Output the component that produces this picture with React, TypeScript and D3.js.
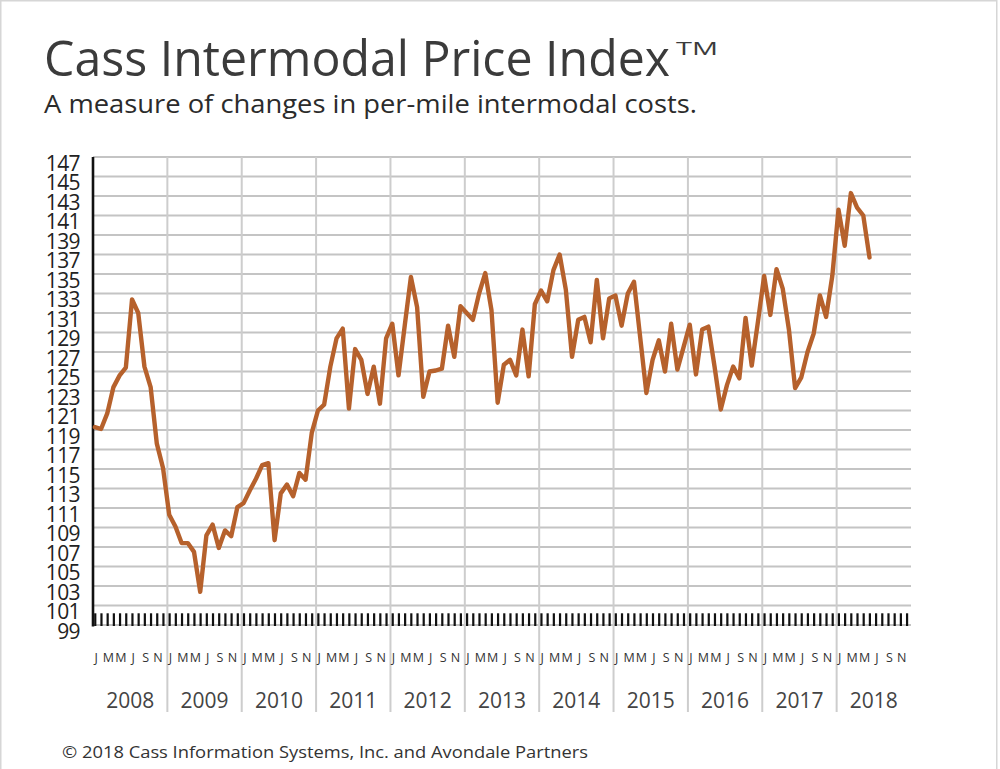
import React, { useEffect, useRef } from 'react';
import * as d3 from 'd3';

// monthly index values, Jan..Dec
const INDEX_2008 = [119.3, 119.1, 120.7, 123.4, 124.6, 125.4, 132.4, 131.0, 125.5, 123.4, 117.6, 115.1];
const INDEX_2009 = [110.3, 109.1, 107.4, 107.4, 106.5, 102.4, 108.2, 109.3, 106.9, 108.7, 108.1, 111.1];
const INDEX_2010 = [111.5, 112.8, 114.0, 115.4, 115.6, 107.7, 112.5, 113.4, 112.2, 114.6, 113.9, 118.7];
const INDEX_2011 = [121.0, 121.6, 125.5, 128.4, 129.4, 121.2, 127.3, 126.2, 122.7, 125.5, 121.7, 128.4];
const INDEX_2012 = [129.9, 124.6, 129.7, 134.7, 131.6, 122.4, 125.0, 125.1, 125.3, 129.7, 126.5, 131.7];
const INDEX_2013 = [131.0, 130.3, 133.0, 135.1, 131.3, 121.8, 125.7, 126.2, 124.6, 129.3, 124.5, 131.9];
const INDEX_2014 = [133.3, 132.2, 135.4, 137.0, 133.4, 126.5, 130.3, 130.6, 128.0, 134.4, 128.4, 132.5];
const INDEX_2015 = [132.8, 129.7, 133.0, 134.2, 128.5, 122.8, 126.2, 128.2, 125.0, 129.9, 125.2, 127.5];
const INDEX_2016 = [129.8, 124.7, 129.3, 129.6, 125.5, 121.1, 123.6, 125.5, 124.3, 130.5, 125.6, 130.1];
const INDEX_2017 = [134.8, 130.8, 135.5, 133.5, 129.3, 123.3, 124.4, 127.0, 128.9, 132.8, 130.6, 134.8];
const INDEX_2018 = [141.6, 137.9, 143.3, 141.8, 141.0, 136.7];

const YEARS = ['2008', '2009', '2010', '2011', '2012', '2013', '2014', '2015', '2016', '2017', '2018'];
const MONTH_LABELS = ['J', '', 'M', '', 'M', '', 'J', '', 'S', '', 'N', ''];
const Y_TICKS = [99, 101, 103, 105, 107, 109, 111, 113, 115, 117, 119, 121, 123, 125, 127, 129, 131, 133, 135, 137, 139, 141, 143, 145, 147];

const SERIES = [
  ...INDEX_2008, ...INDEX_2009, ...INDEX_2010, ...INDEX_2011, ...INDEX_2012, ...INDEX_2013,
  ...INDEX_2014, ...INDEX_2015, ...INDEX_2016, ...INDEX_2017, ...INDEX_2018
];

const FONT = '"Open Sans", "Noto Sans", sans-serif';

const App: React.FC = () => {
  const svgRef = useRef<SVGSVGElement>(null);

  useEffect(() => {
    if (!svgRef.current) {
      return;
    }

    const width = 1000;
    const height = 769;
    const months = YEARS.length * 12;

    const svg = d3.select(svgRef.current);
    svg.selectAll('*').remove();
    svg.attr('width', width).attr('height', height).attr('viewBox', `0 0 ${width} ${height}`);

    const x = d3.scaleLinear().domain([0, months]).range([93, 911]);
    const y = d3.scaleLinear().domain([99, 147]).range([625, 157]);

    svg.append('rect').attr('width', width).attr('height', height).attr('fill', '#fff');
    svg
      .append('rect')
      .attr('x', 0.75)
      .attr('y', 0.75)
      .attr('width', 996)
      .attr('height', 790)
      .attr('fill', 'none')
      .attr('stroke', '#d6d6d6')
      .attr('stroke-width', 1.5);

    // titles
    svg
      .append('text')
      .attr('x', 44)
      .attr('y', 76)
      .attr('font-family', FONT)
      .attr('font-size', 50)
      .attr('fill', '#3b3b3b')
      .attr('textLength', 626)
      .attr('lengthAdjust', 'spacingAndGlyphs')
      .text('Cass Intermodal Price Index');

    svg
      .append('text')
      .attr('x', 676)
      .attr('y', 55)
      .attr('font-family', FONT)
      .attr('font-size', 19)
      .attr('fill', '#3b3b3b')
      .attr('textLength', 42)
      .attr('lengthAdjust', 'spacingAndGlyphs')
      .text('TM');

    svg
      .append('text')
      .attr('x', 44)
      .attr('y', 113)
      .attr('font-family', FONT)
      .attr('font-size', 25)
      .attr('fill', '#2b2b2b')
      .attr('textLength', 653)
      .attr('lengthAdjust', 'spacingAndGlyphs')
      .text('A measure of changes in per-mile intermodal costs.');

    // horizontal grid
    const grid = svg.append('g');
    Y_TICKS.forEach((v) => {
      grid
        .append('line')
        .attr('x1', x(0))
        .attr('x2', x(months))
        .attr('y1', y(v))
        .attr('y2', y(v))
        .attr('stroke', '#c4c4c4')
        .attr('stroke-width', 1.8);
    });

    // year separators
    YEARS.forEach((_, k) => {
      if (k === 0) {
        return;
      }
      grid
        .append('line')
        .attr('x1', x(k * 12))
        .attr('x2', x(k * 12))
        .attr('y1', y(147))
        .attr('y2', 712)
        .attr('stroke', '#cdcdcd')
        .attr('stroke-width', 2);
    });

    // monthly ticks between 99 and 101
    const ticks = svg.append('g');
    d3.range(months).forEach((i) => {
      ticks
        .append('rect')
        .attr('x', x(i + 0.35) - 1)
        .attr('y', y(100.2))
        .attr('width', 2.2)
        .attr('height', y(99) - y(100.2) + 1)
        .attr('fill', '#111');
    });

    // left axis
    svg
      .append('line')
      .attr('x1', x(0))
      .attr('x2', x(0))
      .attr('y1', y(147))
      .attr('y2', y(99) + 1.5)
      .attr('stroke', '#111')
      .attr('stroke-width', 2.6);

    // y labels
    const yLabels = svg.append('g');
    Y_TICKS.forEach((v) => {
      yLabels
        .append('text')
        .attr('x', 80)
        .attr('y', y(v) + 13.5)
        .attr('text-anchor', 'end')
        .attr('font-family', FONT)
        .attr('font-size', 21)
        .attr('letter-spacing', -0.6)
        .attr('fill', '#222')
        .text(String(v));
    });

    // month + year labels
    const xLabels = svg.append('g');
    YEARS.forEach((year, k) => {
      MONTH_LABELS.forEach((m, j) => {
        if (!m) {
          return;
        }
        xLabels
          .append('text')
          .attr('x', x(k * 12 + j + 0.5))
          .attr('y', 662)
          .attr('text-anchor', 'middle')
          .attr('font-family', FONT)
          .attr('font-size', 12.5)
          .attr('fill', '#333')
          .text(m);
      });

      xLabels
        .append('text')
        .attr('x', x(k * 12 + 6))
        .attr('y', 708)
        .attr('text-anchor', 'middle')
        .attr('font-family', FONT)
        .attr('font-size', 21)
        .attr('fill', '#444')
        .text(year);
    });

    // index line
    const line = d3
      .line<number>()
      .x((_, i) => x(i + 0.3))
      .y((d) => y(d));

    svg
      .append('path')
      .datum(SERIES)
      .attr('d', line)
      .attr('fill', 'none')
      .attr('stroke', '#b6612c')
      .attr('stroke-width', 4.4)
      .attr('stroke-linejoin', 'round')
      .attr('stroke-linecap', 'round');

    // footer
    svg
      .append('text')
      .attr('x', 62)
      .attr('y', 758)
      .attr('font-family', FONT)
      .attr('font-size', 17)
      .attr('fill', '#333')
      .attr('textLength', 526)
      .attr('lengthAdjust', 'spacingAndGlyphs')
      .text('\u00a9 2018 Cass Information Systems, Inc. and Avondale Partners');
  }, []);

  return (
    <div style={{ position: 'absolute', left: 0, top: 0 }}>
      <svg ref={svgRef} style={{ display: 'block' }} />
    </div>
  );
};

export default App;
